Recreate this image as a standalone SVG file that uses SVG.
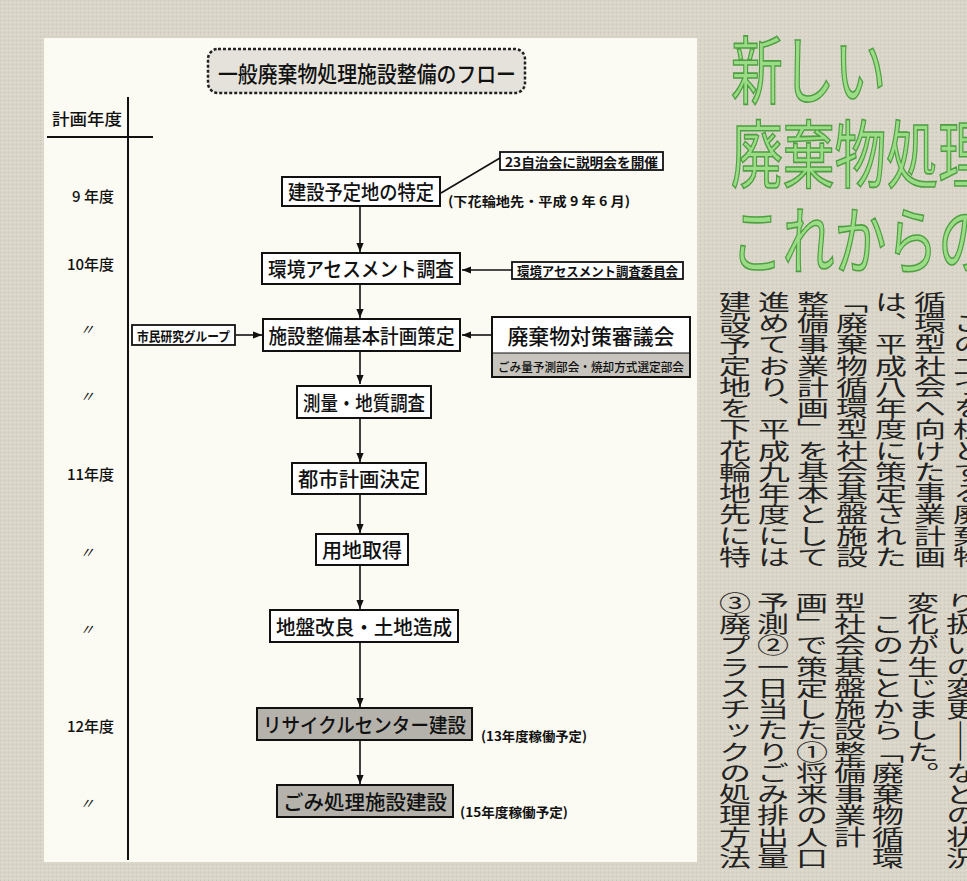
<svg xmlns="http://www.w3.org/2000/svg" width="967" height="881" viewBox="0 0 967 881">
<defs>
<marker id="ah" viewBox="0 0 10 10" refX="10" refY="5" markerWidth="9" markerHeight="9" markerUnits="userSpaceOnUse" orient="auto"><path d="M0,1 L10,5 L0,9 z" fill="#111"/></marker>
<pattern id="tex" width="4" height="4" patternUnits="userSpaceOnUse"><rect width="4" height="4" fill="#d9d5c8"/><rect width="1" height="1" fill="#c9c5b8"/><rect x="2" y="2" width="1" height="1" fill="#e6e2d6"/></pattern>
</defs>
<style>
.box{fill:#fff;stroke:#111;stroke-width:2}
.gbox{fill:#b4b2ab;stroke:#111;stroke-width:2}
.sbox{fill:#fff;stroke:#111;stroke-width:1.8}
.t{font-family:"Noto Sans CJK JP","Noto Sans CJK SC",sans-serif;fill:#111;text-anchor:middle;dominant-baseline:central;font-weight:500}
.b{font-size:20px}
.s{font-size:13px;font-weight:700}
.yr{font-family:"Noto Sans CJK JP",sans-serif;font-size:15px;font-weight:500;fill:#111;text-anchor:end;dominant-baseline:central}
.dit{font-family:"Noto Sans CJK JP",sans-serif;font-size:15px;fill:#111;text-anchor:middle;dominant-baseline:central;font-style:italic}
.con line{stroke:#111;stroke-width:1.6;fill:none}
.v{font-family:"Noto Sans CJK JP",sans-serif;font-size:32px;writing-mode:vertical-rl;fill:#222;font-weight:400}
.g{font-family:"Noto Sans CJK JP",sans-serif;font-size:74px;fill:#9bdd86;stroke:#4f9f42;stroke-width:1.6;font-weight:400}
</style>
<rect width="967" height="881" fill="url(#tex)"/>
<rect x="44" y="38" width="653" height="824" fill="#fcfbf3"/>

<g id="headline">
<text class="g" transform="translate(731,98) scale(0.7,1)">新しい</text>
<text class="g" transform="translate(731,182) scale(0.7,1)">廃棄物処理</text>
<text class="g" transform="translate(731,268) scale(0.7,1)">これからの</text>
</g>

<g id="article">
<text class="v" transform="translate(969,291) scale(1,0.665)">　この二つを柱とする廃棄物</text>
<text class="v" transform="translate(930,291) scale(1,0.665)">循環型社会へ向けた事業計画</text>
<text class="v" transform="translate(891,291) scale(1,0.665)">は、平成八年度に策定された</text>
<text class="v" transform="translate(852,291) scale(1,0.665)">「廃棄物循環型社会基盤施設</text>
<text class="v" transform="translate(813,291) scale(1,0.665)">整備事業計画」を基本として</text>
<text class="v" transform="translate(774,291) scale(1,0.665)">進めており、平成九年度には</text>
<text class="v" transform="translate(735,291) scale(1,0.665)">建設予定地を下花輪地先に特</text>
<text class="v" transform="translate(962,592) scale(1,0.665)">り扱いの変更――などの状況</text>
<text class="v" transform="translate(923,592) scale(1,0.665)">変化が生じました。</text>
<text class="v" transform="translate(888,592) scale(1,0.665)">　このことから「廃棄物循環</text>
<text class="v" transform="translate(850,592) scale(1,0.665)">型社会基盤施設整備事業計</text>
<text class="v" transform="translate(812,592) scale(1,0.665)">画」で策定した①将来の人口</text>
<text class="v" transform="translate(773,592) scale(1,0.665)">予測②一日当たりごみ排出量</text>
<text class="v" transform="translate(735,592) scale(1,0.665)">③廃プラスチックの処理方法</text>
</g>

<g id="title">
<rect x="208" y="49" width="317" height="44" rx="10" fill="#e4e2da" stroke="#222" stroke-width="2.5" stroke-dasharray="3,2"/>
<text class="t" x="367" y="72" font-size="22" font-weight="700" textLength="298" lengthAdjust="spacingAndGlyphs">一般廃棄物処理施設整備のフロー</text>
</g>

<g id="axis">
<text class="t" x="87" y="118" font-size="16" textLength="70" lengthAdjust="spacingAndGlyphs">計画年度</text>
<line x1="47" y1="137" x2="153" y2="137" stroke="#111" stroke-width="2"/>
<line x1="128" y1="97" x2="128" y2="860" stroke="#111" stroke-width="2"/>
<text class="yr" x="114" y="195">9 年度</text>
<text class="yr" x="114" y="263">10年度</text>
<text class="dit" x="87" y="328">〃</text>
<text class="dit" x="87" y="395">〃</text>
<text class="yr" x="114" y="473">11年度</text>
<text class="dit" x="87" y="551">〃</text>
<text class="dit" x="87" y="628">〃</text>
<text class="yr" x="114" y="725">12年度</text>
<text class="dit" x="87" y="802">〃</text>
</g>

<g id="connectors" class="con">
<line x1="360" y1="206" x2="360" y2="252" marker-end="url(#ah)"/>
<line x1="360" y1="285" x2="360" y2="318" marker-end="url(#ah)"/>
<line x1="360" y1="352" x2="360" y2="384" marker-end="url(#ah)"/>
<line x1="360" y1="419" x2="360" y2="462" marker-end="url(#ah)"/>
<line x1="360" y1="495" x2="360" y2="533" marker-end="url(#ah)"/>
<line x1="360" y1="566" x2="360" y2="609" marker-end="url(#ah)"/>
<line x1="360" y1="643" x2="360" y2="707" marker-end="url(#ah)"/>
<line x1="360" y1="741" x2="360" y2="784" marker-end="url(#ah)"/>
<line x1="441" y1="193" x2="500" y2="158"/>
<line x1="512" y1="270" x2="462" y2="270" marker-end="url(#ah)"/>
<line x1="236" y1="335" x2="262" y2="335" marker-end="url(#ah)"/>
<line x1="492" y1="335" x2="462" y2="335" marker-end="url(#ah)"/>
</g>

<g id="n1"><rect class="box" x="282" y="177" width="158" height="29"/><text class="t b" x="361" y="191" textLength="146" lengthAdjust="spacingAndGlyphs">建設予定地の特定</text></g>
<g id="n1a"><rect class="sbox" x="500" y="152" width="163" height="18"/><text class="t s" x="581.5" y="161" textLength="153" lengthAdjust="spacingAndGlyphs">23自治会に説明会を開催</text></g>
<g id="n1b"><text class="t s" x="448" y="200" style="text-anchor:start" textLength="182" lengthAdjust="spacingAndGlyphs">(下花輪地先・平成 9 年 6 月)</text></g>

<g id="n2"><rect class="box" x="262" y="253" width="198" height="31"/><text class="t b" x="361" y="268" textLength="186" lengthAdjust="spacingAndGlyphs">環境アセスメント調査</text></g>
<g id="n2a"><rect class="sbox" x="512" y="262" width="171" height="17"/><text class="t s" x="597.5" y="270.5" font-size="12" textLength="161" lengthAdjust="spacingAndGlyphs">環境アセスメント調査委員会</text></g>

<g id="n3"><rect class="box" x="263" y="319" width="197" height="32"/><text class="t b" x="361.5" y="335" textLength="186" lengthAdjust="spacingAndGlyphs">施設整備基本計画策定</text></g>
<g id="n3a"><rect class="sbox" x="132" y="325" width="103" height="20"/><text class="t s" x="183.5" y="335" textLength="93" lengthAdjust="spacingAndGlyphs">市民研究グループ</text></g>
<g id="n3b"><rect class="box" x="492" y="317" width="198" height="60"/><rect x="493" y="353" width="196" height="23" fill="#c6c4bc"/><line x1="492" y1="353" x2="690" y2="353" stroke="#111" stroke-width="1"/><text class="t" x="591" y="335" font-size="21" textLength="167" lengthAdjust="spacingAndGlyphs">廃棄物対策審議会</text><text class="t" x="591" y="366" font-size="12.5" font-weight="700" textLength="186" lengthAdjust="spacingAndGlyphs">ごみ量予測部会・焼却方式選定部会</text></g>

<g id="n4"><rect class="box" x="297" y="386" width="134" height="32"/><text class="t b" x="364" y="402" textLength="122" lengthAdjust="spacingAndGlyphs">測量・地質調査</text></g>
<g id="n5"><rect class="box" x="292" y="463" width="134" height="31"/><text class="t b" x="359" y="478.5" textLength="122" lengthAdjust="spacingAndGlyphs">都市計画決定</text></g>
<g id="n6"><rect class="box" x="316" y="534" width="92" height="31"/><text class="t b" x="362" y="549.5" textLength="80" lengthAdjust="spacingAndGlyphs">用地取得</text></g>
<g id="n7"><rect class="box" x="270" y="610" width="188" height="32"/><text class="t b" x="364" y="626" textLength="176" lengthAdjust="spacingAndGlyphs">地盤改良・土地造成</text></g>
<g id="n8"><rect class="gbox" x="257" y="708" width="215" height="32"/><text class="t b" x="364.5" y="724" font-weight="700" textLength="203" lengthAdjust="spacingAndGlyphs">リサイクルセンター建設</text></g>
<g id="n8a"><text class="t s" x="481" y="735" style="text-anchor:start" textLength="106" lengthAdjust="spacingAndGlyphs">(13年度稼働予定)</text></g>
<g id="n9"><rect class="gbox" x="277" y="785" width="176" height="32"/><text class="t b" x="365" y="801" font-weight="700" textLength="164" lengthAdjust="spacingAndGlyphs">ごみ処理施設建設</text></g>
<g id="n9a"><text class="t s" x="460" y="811" style="text-anchor:start" textLength="108" lengthAdjust="spacingAndGlyphs">(15年度稼働予定)</text></g>
</svg>
